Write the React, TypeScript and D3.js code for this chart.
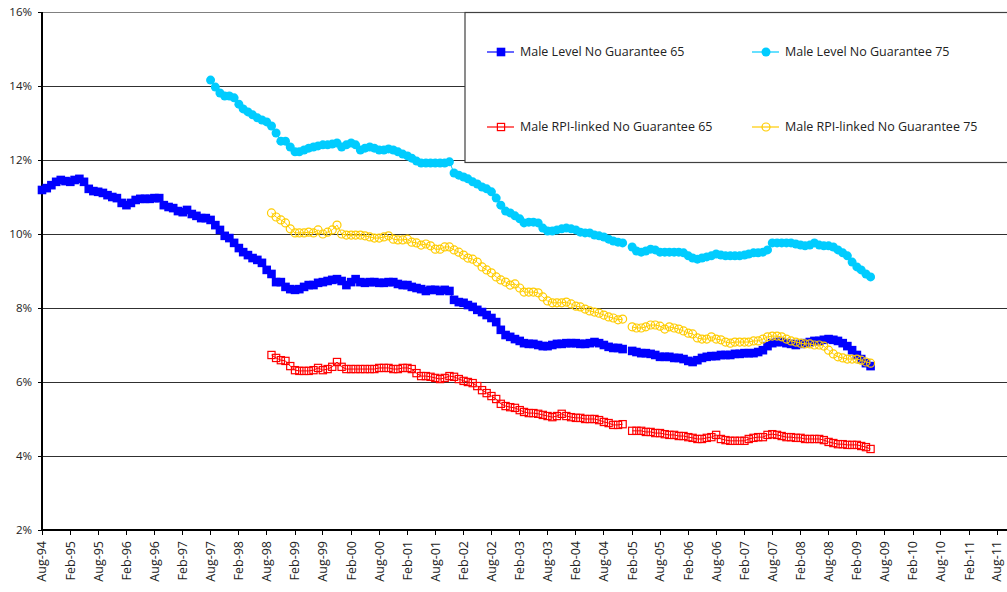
import React from "react";
import * as d3 from "d3";

// Monthly annuity rates (%), first value of each series at the given start month
const levelNG65Start = "1994-08";
const levelNG65 = [
  11.19, 11.24, 11.32, 11.41, 11.46, 11.43, 11.41, 11.46, 11.49, 11.41, 11.22, 11.16,
  11.14, 11.11, 11.05, 11.0, 10.97, 10.84, 10.78, 10.84, 10.92, 10.95, 10.95, 10.95,
  10.97, 10.97, 10.78, 10.73, 10.7, 10.62, 10.59, 10.65, 10.54, 10.49, 10.43, 10.43,
  10.38, 10.24, 10.11, 9.95, 9.89, 9.76, 9.62, 9.51, 9.43, 9.35, 9.3, 9.22,
  9.03, 8.92, 8.7, 8.7, 8.57, 8.51, 8.49, 8.51, 8.57, 8.62, 8.62, 8.68,
  8.7, 8.73, 8.76, 8.78, 8.73, 8.62, 8.7, 8.78, 8.7, 8.68, 8.7, 8.7,
  8.68, 8.68, 8.7, 8.7, 8.65, 8.62, 8.62, 8.57, 8.54, 8.51, 8.46, 8.49,
  8.49, 8.46, 8.49, 8.46, 8.22, 8.16, 8.14, 8.08, 8.03, 7.95, 7.89, 7.81,
  7.73, 7.62, 7.41, 7.27, 7.22, 7.16, 7.11, 7.05, 7.03, 7.03, 7.0, 6.97,
  6.97, 7.0, 7.03, 7.03, 7.05, 7.05, 7.05, 7.03, 7.03, 7.05, 7.08, 7.05,
  7.0, 6.95, 6.92, 6.92, 6.89, null, 6.84, 6.81, 6.78, 6.78, 6.76, 6.73,
  6.68, 6.68, 6.68, 6.65, 6.65, 6.62, 6.57, 6.54, 6.59, 6.65, 6.68, 6.7,
  6.7, 6.73, 6.73, 6.73, 6.76, 6.76, 6.78, 6.78, 6.78, 6.81, 6.86, 6.97,
  7.05, 7.08, 7.08, 7.05, 7.03, 7.0, 7.03, 7.05, 7.08, 7.11, 7.11, 7.14,
  7.16, 7.14, 7.11, 7.05, 6.97, 6.86, 6.73, 6.62, 6.51, 6.43,
];

const levelNG75Start = "1997-08";
const levelNG75 = [
  14.16, 13.97, 13.81, 13.73, 13.73, 13.68, 13.51, 13.38, 13.3, 13.22, 13.14, 13.08,
  13.03, 12.92, 12.73, 12.51, 12.51, 12.35, 12.22, 12.22, 12.27, 12.32, 12.35, 12.38,
  12.41, 12.41, 12.43, 12.46, 12.35, 12.41, 12.46, 12.41, 12.27, 12.32, 12.35, 12.32,
  12.27, 12.27, 12.3, 12.27, 12.22, 12.16, 12.11, 12.05, 11.97, 11.92, 11.92, 11.92,
  11.92, 11.92, 11.92, 11.95, 11.65, 11.59, 11.54, 11.49, 11.41, 11.35, 11.27, 11.22,
  11.14, 10.97, 10.78, 10.62, 10.57, 10.49, 10.41, 10.3, 10.32, 10.32, 10.3, 10.16,
  10.08, 10.08, 10.11, 10.14, 10.16, 10.14, 10.11, 10.05, 10.03, 10.03, 9.97, 9.95,
  9.92, 9.86, 9.81, 9.78, 9.76, null, 9.65, 9.54, 9.51, 9.54, 9.59, 9.57,
  9.51, 9.51, 9.51, 9.51, 9.51, 9.49, 9.41, 9.35, 9.32, 9.35, 9.38, 9.41,
  9.46, 9.43, 9.41, 9.41, 9.41, 9.41, 9.43, 9.46, 9.49, 9.49, 9.51, 9.57,
  9.76, 9.76, 9.76, 9.76, 9.76, 9.73, 9.7, 9.68, 9.7, 9.76, 9.7, 9.68,
  9.68, 9.65, 9.57, 9.49, 9.41, 9.24, 9.11, 9.03, 8.92, 8.84,
];

const rpiNG65Start = "1998-09";
const rpiNG65 = [
  6.73, 6.65, 6.59, 6.57, 6.43, 6.32, 6.3, 6.3, 6.3, 6.32, 6.38, 6.32,
  6.35, 6.41, 6.54, 6.41, 6.35, 6.35, 6.35, 6.35, 6.35, 6.35, 6.35, 6.38,
  6.38, 6.38, 6.35, 6.35, 6.38, 6.38, 6.35, 6.24, 6.16, 6.16, 6.14, 6.11,
  6.08, 6.11, 6.16, 6.14, 6.08, 6.03, 6.0, 5.97, 5.89, 5.78, 5.7, 5.62,
  5.54, 5.41, 5.35, 5.32, 5.3, 5.24, 5.19, 5.16, 5.16, 5.14, 5.11, 5.08,
  5.05, 5.08, 5.14, 5.08, 5.05, 5.03, 5.03, 5.0, 5.0, 5.0, 4.97, 4.92,
  4.89, 4.84, 4.84, 4.86, null, 4.68, 4.68, 4.68, 4.65, 4.65, 4.62, 4.62,
  4.59, 4.57, 4.57, 4.54, 4.54, 4.51, 4.49, 4.46, 4.46, 4.49, 4.51, 4.57,
  4.46, 4.43, 4.41, 4.41, 4.41, 4.41, 4.46, 4.49, 4.51, 4.51, 4.57, 4.59,
  4.57, 4.54, 4.51, 4.51, 4.49, 4.49, 4.46, 4.46, 4.46, 4.46, 4.43, 4.38,
  4.35, 4.32, 4.32, 4.3, 4.3, 4.3, 4.27, 4.24, 4.19,
];

const rpiNG75Start = "1998-09";
const rpiNG75 = [
  10.57, 10.46, 10.38, 10.3, 10.14, 10.03, 10.03, 10.03, 10.05, 10.03, 10.11, 10.0,
  10.05, 10.11, 10.24, 10.0, 9.97, 9.97, 9.97, 9.97, 9.95, 9.92, 9.89, 9.89,
  9.92, 9.95, 9.86, 9.84, 9.84, 9.86, 9.78, 9.76, 9.7, 9.73, 9.68, 9.59,
  9.59, 9.65, 9.65, 9.57, 9.51, 9.43, 9.35, 9.32, 9.24, 9.11, 9.03, 8.95,
  8.84, 8.76, 8.7, 8.62, 8.65, 8.54, 8.43, 8.43, 8.43, 8.41, 8.3, 8.19,
  8.14, 8.14, 8.14, 8.16, 8.11, 8.05, 8.03, 7.97, 7.92, 7.89, 7.86, 7.81,
  7.76, 7.73, 7.68, 7.7, null, 7.49, 7.46, 7.46, 7.49, 7.54, 7.54, 7.51,
  7.43, 7.49, 7.46, 7.43, 7.38, 7.32, 7.3, 7.19, 7.16, 7.16, 7.22, 7.16,
  7.14, 7.08, 7.05, 7.08, 7.08, 7.08, 7.08, 7.11, 7.11, 7.16, 7.22, 7.24,
  7.24, 7.22, 7.16, 7.11, 7.08, 7.05, 7.03, 7.03, 7.0, 7.0, 6.97, 6.86,
  6.76, 6.68, 6.65, 6.62, 6.62, 6.62, 6.59, 6.54, 6.51,
];

const seriesNames = [
  "Male Level No Guarantee 65",
  "Male Level No Guarantee 75",
  "Male RPI-linked No Guarantee 65",
  "Male RPI-linked No Guarantee 75",
];
const seriesColors = ["#0000FF", "#00CCFF", "#FF0000", "#FFCC00"];
const yTicks = [2, 4, 6, 8, 10, 12, 14, 16];
const axisStart = "1994-08";
const axisEnd = "2011-08";

const W = 1007;
const H = 592;
const FONT = "'Open Sans', 'DejaVu Sans', sans-serif";

const parseMonth = d3.timeParse("%Y-%m");
const fmt = d3.timeFormat("%b-%y");

type Pt = { date: Date; v: number | null };
function toPoints(start: string, vals: (number | null)[]): Pt[] {
  const s = parseMonth(start) as Date;
  return vals.map((v, i) => ({ date: d3.timeMonth.offset(s, i), v }));
}

export default function App() {
  const left = 42, right = 997, top = 12, bottom = 530;
  const x = d3
    .scaleTime()
    .domain([parseMonth(axisStart) as Date, parseMonth(axisEnd) as Date])
    .range([left, right]);
  const y = d3.scaleLinear().domain([2, 16]).range([bottom, top]);

  const series = [
    toPoints(levelNG65Start, levelNG65),
    toPoints(levelNG75Start, levelNG75),
    toPoints(rpiNG65Start, rpiNG65),
    toPoints(rpiNG75Start, rpiNG75),
  ];

  const line = d3
    .line<Pt>()
    .defined((d) => d.v !== null)
    .x((d) => x(d.date))
    .y((d) => y(d.v as number));

  const xTicks: Date[] = [];
  {
    let d = parseMonth(axisStart) as Date;
    const end = parseMonth(axisEnd) as Date;
    while (d <= end) {
      xTicks.push(d);
      d = d3.timeMonth.offset(d, 6);
    }
  }

  const marker = (k: number, cx: number, cy: number, key: string | number) => {
    const c = seriesColors[k];
    if (k === 0)
      return <rect key={key} x={cx - 4.3} y={cy - 4.3} width={8.6} height={8.6} fill={c} />;
    if (k === 1) return <circle key={key} cx={cx} cy={cy} r={4.5} fill={c} />;
    if (k === 2)
      return (
        <rect key={key} x={cx - 3.6} y={cy - 3.6} width={7.2} height={7.2} fill="none" stroke={c} strokeWidth={1.2} />
      );
    return <circle key={key} cx={cx} cy={cy} r={4} fill="none" stroke={c} strokeWidth={1.2} />;
  };

  const legendPos = [
    { x: 487, y: 52 },
    { x: 752, y: 52 },
    { x: 487, y: 127 },
    { x: 752, y: 127 },
  ];

  return (
    <svg
      width={W}
      height={H}
      style={{ position: "absolute", left: 0, top: 0, background: "#fff" }}
      fontFamily={FONT}
    >
      <rect x={0} y={0} width={W} height={H} fill="#fff" />
      {/* gridlines */}
      {yTicks.map((t) => (
        <line
          key={"g" + t}
          x1={left}
          x2={W}
          y1={y(t)}
          y2={y(t)}
          stroke={t === 16 ? "#808080" : "#303030"}
          strokeWidth={1}
          shapeRendering="crispEdges"
        />
      ))}
      {/* y axis */}
      <line x1={left} x2={left} y1={top} y2={bottom} stroke="#000" strokeWidth={1.3} shapeRendering="crispEdges" />
      {yTicks.map((t) => (
        <g key={"yt" + t}>
          <line x1={left - 4} x2={left} y1={y(t)} y2={y(t)} stroke="#000" shapeRendering="crispEdges" />
          <text x={left - 10} y={y(t)} dy="0.35em" textAnchor="end" fontSize={11.5} fill="#222">
            {t + "%"}
          </text>
        </g>
      ))}
      {/* x axis */}
      <line x1={left} x2={W} y1={bottom} y2={bottom} stroke="#000" strokeWidth={1.3} shapeRendering="crispEdges" />
      {xTicks.map((d, i) => (
        <g key={"xt" + i}>
          <line x1={x(d)} x2={x(d)} y1={bottom} y2={bottom + 5} stroke="#000" shapeRendering="crispEdges" />
          <text
            transform={`translate(${x(d)},${bottom + 11}) rotate(-90)`}
            dy="0.35em"
            textAnchor="end"
            fontSize={12.5}
            fill="#222"
          >
            {fmt(d)}
          </text>
        </g>
      ))}
      {/* series */}
      {series.map((pts, k) => (
        <g key={"s" + k}>
          <path d={line(pts) || ""} fill="none" stroke={seriesColors[k]} strokeWidth={1} />
          {pts
            .filter((p) => p.v !== null)
            .map((p, i) => marker(k, x(p.date), y(p.v as number), i))}
        </g>
      ))}
      {/* legend */}
      <rect x={465} y={12.5} width={600} height={150} fill="#fff" stroke="#404040" strokeWidth={1.2} />
      {seriesNames.map((n, k) => {
        const p = legendPos[k];
        return (
          <g key={"l" + k}>
            <line x1={p.x} x2={p.x + 27} y1={p.y} y2={p.y} stroke={seriesColors[k]} strokeWidth={1.2} />
            {marker(k, p.x + 14, p.y, "m" + k)}
            <text x={p.x + 33} y={p.y} dy="0.35em" fontSize={12.5} fill="#222">
              {n}
            </text>
          </g>
        );
      })}
    </svg>
  );
}
